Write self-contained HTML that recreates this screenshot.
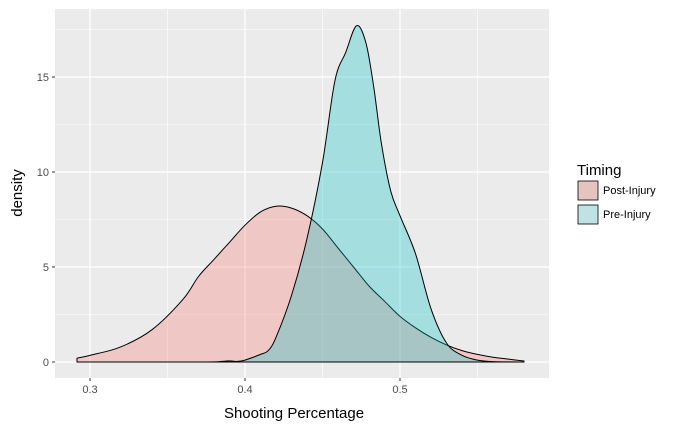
<!DOCTYPE html>
<html><head><meta charset="utf-8"><style>
body{margin:0;background:#fff;font-family:"Liberation Sans",sans-serif;}
svg text{font-family:"Liberation Sans",sans-serif;}
</style></head><body>
<svg id="chart" width="695" height="430" xmlns="http://www.w3.org/2000/svg">
<rect x="55" y="9" width="494" height="369" fill="#ebebeb"/>
<g id="grid"></g>
<g id="marks"></g>
<g id="axes"></g>
<text x="294" y="418" font-size="15" text-anchor="middle">Shooting Percentage</text>
<text transform="translate(22,193) rotate(-90)" font-size="15" text-anchor="middle">density</text>
<g>
<text x="577" y="175" font-size="15">Timing</text>
<rect x="578" y="181" width="20" height="19" fill="#e7c3bf" stroke="#000" stroke-width="0.8"/>
<text x="603" y="194" font-size="11">Post-Injury</text>
<rect x="578" y="205" width="20" height="19" fill="#bfe3e5" stroke="#000" stroke-width="0.8"/>
<text x="603" y="218" font-size="11">Pre-Injury</text>
</g>
</svg>
<script>
const postX=[0.2916,0.30,0.32,0.34,0.36,0.37,0.38,0.39,0.40,0.41,0.42,0.43,0.44,0.45,0.46,0.47,0.48,0.49,0.50,0.51,0.52,0.53,0.54,0.55,0.56,0.57,0.58];
const postY=[0.2,0.35,0.8,1.7,3.3,4.5,5.4,6.3,7.2,7.9,8.2,8.1,7.7,7.0,6.0,5.0,4.0,3.2,2.4,1.8,1.3,0.9,0.6,0.4,0.25,0.15,0.05];
const preX=[0.2916,0.37,0.385,0.39,0.395,0.40,0.41,0.415,0.42,0.43,0.44,0.45,0.458,0.465,0.472,0.478,0.483,0.488,0.494,0.50,0.51,0.52,0.53,0.54,0.55,0.56,0.58];
const preY=[0,0,0.03,0.06,0.03,0.1,0.4,0.6,1.3,3.5,6.5,10.5,14.8,16.3,17.7,16.8,14.5,11.5,9.0,7.7,5.7,2.8,1.0,0.35,0.1,0.02,0];
const xTicks=[0.3,0.4,0.5];
const yTicks=[0,5,10,15];
const NS="http://www.w3.org/2000/svg";
const sx=v=>90+(v-0.3)*1550;
const sy=v=>362-v*19;
const grid=document.getElementById('grid'),marks=document.getElementById('marks'),axes=document.getElementById('axes');
function mk(tag,attrs,parent){const e=document.createElementNS(NS,tag);for(const k in attrs)e.setAttribute(k,attrs[k]);parent.appendChild(e);return e;}
for(let i=0;i<xTicks.length+1;i++){const v=0.25+i*0.1;const x=sx(v);if(x>55&&x<549){const l=mk('line',{x1:x,x2:x,y1:9,y2:378,stroke:'#fff','stroke-width':0.6},grid);}}
for(let i=0;i<yTicks.length;i++){const y=sy(yTicks[i]+2.5);const l=mk('line',{x1:55,x2:549,y1:y,y2:y,stroke:'#fff','stroke-width':0.6},grid);}
xTicks.forEach(v=>{const x=sx(v);const l=mk('line',{x1:x,x2:x,y1:9,y2:378,stroke:'#fff','stroke-width':1.2},grid);
const t=mk('line',{x1:x,x2:x,y1:378,y2:381,stroke:'#333'},axes);
const tx=mk('text',{x:x,y:393,'font-size':11,'text-anchor':'middle',fill:'#4d4d4d'},axes);tx.textContent=v.toFixed(1);});
yTicks.forEach(v=>{const y=sy(v);const l=mk('line',{x1:55,x2:549,y1:y,y2:y,stroke:'#fff','stroke-width':1.2},grid);
const t=mk('line',{x1:52,x2:55,y1:y,y2:y,stroke:'#333'},axes);
const tx=mk('text',{x:49,y:y+4,'font-size':11,'text-anchor':'end',fill:'#4d4d4d'},axes);tx.textContent=v;});
function area(xs,ys,fill,name){
const P=xs.map((x,i)=>[sx(x),sy(ys[i])]);
let d='M'+P[0][0]+','+sy(0)+' L'+P[0][0]+','+P[0][1];
for(let i=0;i<P.length-1;i++){const p0=P[Math.max(i-1,0)],p1=P[i],p2=P[i+1],p3=P[Math.min(i+2,P.length-1)];
const c1=[p1[0]+(p2[0]-p0[0])/6,p1[1]+(p2[1]-p0[1])/6],c2=[p2[0]-(p3[0]-p1[0])/6,p2[1]-(p3[1]-p1[1])/6];
d+=' C'+c1[0]+','+Math.min(c1[1],sy(0))+' '+c2[0]+','+Math.min(c2[1],sy(0))+' '+p2[0]+','+p2[1];}
d+=' L'+P[P.length-1][0]+','+sy(0)+' Z';
const p=mk('path',{d:d,fill:fill,'fill-opacity':0.3,stroke:'#000','stroke-width':1,'stroke-linejoin':'round'},marks);}
area(postX,postY,'#F8766D','post-injury-density');
area(preX,preY,'#00BFC4','pre-injury-density');
</script>
</body></html>
